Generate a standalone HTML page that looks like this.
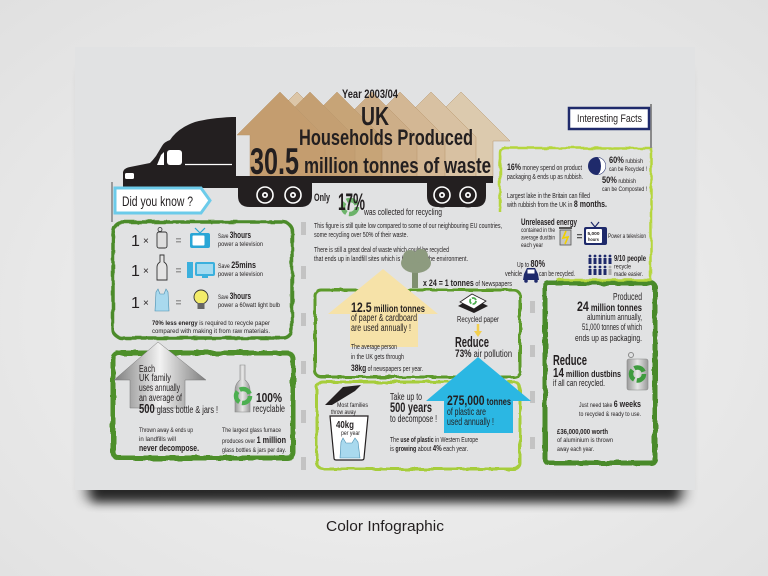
<!DOCTYPE html>
<html><head><meta charset="utf-8"><style>
html,body{margin:0;padding:0;width:768px;height:576px;overflow:hidden;background:#ececec}
svg{display:block}
text{font-family:"Liberation Sans Narrow","Liberation Sans",sans-serif;fill:#231f20}
.b{font-weight:bold}
</style></head><body>
<svg width="768" height="576" viewBox="0 0 768 576" xmlns="http://www.w3.org/2000/svg">
<defs>
<radialGradient id="bg" cx="0.5" cy="0.55" r="0.75">
<stop offset="0" stop-color="#f4f4f4"/><stop offset="1" stop-color="#e0e0e0"/>
</radialGradient>
<filter id="blur" x="-10%" y="-10%" width="120%" height="130%"><feGaussianBlur stdDeviation="6"/></filter>
<filter id="blur2" x="-10%" y="-50%" width="120%" height="200%"><feGaussianBlur stdDeviation="5"/></filter>
<filter id="rough" x="-5%" y="-5%" width="110%" height="110%">
<feTurbulence type="fractalNoise" baseFrequency="0.09" numOctaves="2" seed="4"/>
<feDisplacementMap in="SourceGraphic" scale="3.5"/>
</filter>
<linearGradient id="silver" x1="0" x2="1" y1="0" y2="0">
<stop offset="0" stop-color="#7d7d7d"/><stop offset="0.5" stop-color="#f2f2f2"/><stop offset="1" stop-color="#7d7d7d"/>
</linearGradient>
<linearGradient id="glass" x1="0" x2="1">
<stop offset="0" stop-color="#9a9a9a"/><stop offset="0.5" stop-color="#e6e6e6"/><stop offset="1" stop-color="#9a9a9a"/>
</linearGradient>
</defs>

<rect width="768" height="576" fill="url(#bg)"/>
<!-- card shadow -->
<rect x="84" y="70" width="602" height="430" fill="#000" opacity="0.45" filter="url(#blur)"/>
<rect x="92" y="470" width="586" height="32" fill="#000" opacity="0.7" filter="url(#blur2)"/>
<rect x="75" y="47" width="620" height="443" fill="#e1e2e3"/>

<!-- small gray markers -->
<g fill="#c3c3c3">
<rect x="301" y="222" width="5" height="13"/><rect x="301" y="266" width="5" height="13"/><rect x="301" y="313" width="5" height="13"/>
<rect x="301" y="361" width="5" height="13"/><rect x="301" y="410" width="5" height="13"/><rect x="301" y="457" width="5" height="13"/>
<rect x="530" y="301" width="5" height="12"/><rect x="530" y="345" width="5" height="12"/><rect x="530" y="391" width="5" height="12"/><rect x="530" y="437" width="5" height="12"/>
</g>

<!-- houses -->
<g stroke="#b8966c" stroke-width="0.5">
<polygon points="252,137 297,92 342,137 342,178 252,178" fill="#dcc6a8"/>
<polygon points="416,137 461,92 510,141 493,141 493,178 416,178" fill="#dccaae"/>
<polygon points="386,137 431,92 476,137 476,178 386,178" fill="#d8c1a2"/>
<polygon points="355,137 400,92 445,137 445,178 355,178" fill="#d3b794"/>
<polygon points="327,137 372,92 417,137 417,178 327,178" fill="#cdae88"/>
<polygon points="292,137 337,92 382,137 382,178 292,178" fill="#c7a477"/>
<polygon points="265,137 310,92 355,137 355,178 265,178" fill="#c49f72"/>
<polygon points="237,135 280,92 325,137 325,178 250,178 250,135" fill="#c49d6f"/>
</g>

<!-- truck -->
<g fill="#231f20">
<path d="M123,186 L123,172 Q124,168 130,167 L150,163 Q153,160 156,156 L162,146 Q164,142 170,140 Q178,128 195,122 Q210,118 232,117 L236,117 L236,186 Z"/>
<rect x="123" y="178" width="120" height="10"/>
<rect x="236" y="176" width="257" height="7"/>
<path d="M238,180 L312,180 L312,196 Q312,207 300,207 L250,207 Q238,207 238,196 Z"/>
<path d="M427,180 L486,180 L486,196 Q486,207 475,207 L438,207 Q427,207 427,196 Z"/>
</g>
<g fill="#fff">
<rect x="167" y="150" width="15" height="15" rx="3"/>
<polygon points="164,152 164,165 157,165 161,155"/>
<rect x="125" y="173" width="9" height="6" rx="1.5"/>
</g>
<line x1="185" y1="164.5" x2="232" y2="164.5" stroke="#fff" stroke-width="1.2"/>
<g>
<circle cx="265" cy="195" r="12" fill="#231f20"/><circle cx="265" cy="195" r="8" fill="none" stroke="#fff" stroke-width="1.6"/><circle cx="265" cy="195" r="3" fill="#fff"/><circle cx="265" cy="195" r="1.3" fill="#231f20"/>
<circle cx="293" cy="195" r="12" fill="#231f20"/><circle cx="293" cy="195" r="8" fill="none" stroke="#fff" stroke-width="1.6"/><circle cx="293" cy="195" r="3" fill="#fff"/><circle cx="293" cy="195" r="1.3" fill="#231f20"/>
<circle cx="442" cy="195" r="12.5" fill="#231f20"/><circle cx="442" cy="195" r="8" fill="none" stroke="#fff" stroke-width="1.6"/><circle cx="442" cy="195" r="3" fill="#fff"/><circle cx="442" cy="195" r="1.3" fill="#231f20"/>
<circle cx="468" cy="195" r="12.5" fill="#231f20"/><circle cx="468" cy="195" r="8" fill="none" stroke="#fff" stroke-width="1.6"/><circle cx="468" cy="195" r="3" fill="#fff"/><circle cx="468" cy="195" r="1.3" fill="#231f20"/>
</g>

<!-- headline -->
<text x="342" y="98" class="b" font-size="11.5" textLength="56" lengthAdjust="spacingAndGlyphs">Year 2003/04</text>
<text x="361" y="125" class="b" font-size="26" textLength="28" lengthAdjust="spacingAndGlyphs">UK</text>
<text x="299" y="145" class="b" font-size="22" textLength="174" lengthAdjust="spacingAndGlyphs">Households Produced</text>
<text x="250" y="174" class="b" font-size="37" textLength="49" lengthAdjust="spacingAndGlyphs">30.5</text>
<text x="304" y="173" class="b" font-size="22" textLength="187" lengthAdjust="spacingAndGlyphs">million tonnes of waste</text>

<!-- did you know -->
<line x1="112" y1="182" x2="112" y2="222" stroke="#9a9a9a" stroke-width="2"/>
<polygon points="115,188 201,188 210,200.5 201,213 115,213" fill="#fff" stroke="#6ccbea" stroke-width="3"/>
<text x="122" y="206" font-size="14" textLength="71" lengthAdjust="spacingAndGlyphs">Did you know ?</text>

<!-- only 17% -->
<text x="314" y="201" class="b" font-size="11" textLength="16" lengthAdjust="spacingAndGlyphs">Only</text>
<circle cx="350" cy="207" r="7" fill="none" stroke="#6cb36a" stroke-width="4.5" stroke-dasharray="12 2.7"/>
<text x="338" y="210" class="b" font-size="24" textLength="27" lengthAdjust="spacingAndGlyphs">17%</text>
<text x="364" y="215" font-size="9" textLength="78" lengthAdjust="spacingAndGlyphs">was collected for recycling</text>

<text x="314" y="228" font-size="7" textLength="188" lengthAdjust="spacingAndGlyphs">This figure is still quite low compared to some of our neighbouring EU countries,</text>
<text x="314" y="237" font-size="7" textLength="94" lengthAdjust="spacingAndGlyphs">some recycling over 50% of their waste.</text>
<text x="314" y="252" font-size="7" textLength="135" lengthAdjust="spacingAndGlyphs">There is still a great deal of waste which could be recycled</text>
<text x="314" y="261" font-size="7" textLength="154" lengthAdjust="spacingAndGlyphs">that ends up in landfill sites which is harmful to the environment.</text>

<!-- tree -->
<rect x="412" y="270" width="6" height="18" fill="#7f8f6f"/>
<ellipse cx="416" cy="263" rx="15" ry="10" fill="#8d9b7f"/>
<circle cx="410" cy="257" r="7" fill="#8d9b7f"/><circle cx="421" cy="256" r="7" fill="#8d9b7f"/>
<text x="423" y="286" font-size="9" textLength="89" lengthAdjust="spacingAndGlyphs"><tspan class="b">x 24 = 1 tonnes</tspan><tspan font-size="7"> of Newspapers</tspan></text>

<!-- boxes -->
<g fill="none" filter="url(#rough)">
<rect x="113" y="222" width="179" height="116" rx="9" stroke="#4b8b2b" stroke-width="3.5"/>
<rect x="113" y="353" width="180" height="105" rx="6" stroke="#4d8f2c" stroke-width="5"/>
<rect x="315" y="290" width="205" height="87" rx="6" stroke="#5c9a2c" stroke-width="3"/>
<rect x="317" y="382" width="203" height="87" rx="6" stroke="#a6cd3a" stroke-width="3"/>
<rect x="545" y="283" width="110" height="180" rx="4" stroke="#4a8a2a" stroke-width="5"/>
<path d="M500,212 L500,153 Q500,148 506,148 L651,148 L651,280 L557,280" stroke="#b5d63c" stroke-width="2.5"/>
</g>

<!-- interesting facts -->
<line x1="651" y1="104" x2="651" y2="148" stroke="#8a8a8a" stroke-width="2"/>
<rect x="569" y="108" width="80" height="21" fill="#fff" stroke="#1f2a6b" stroke-width="2.5"/>
<text x="577" y="122" font-size="11" textLength="65" lengthAdjust="spacingAndGlyphs">Interesting Facts</text>

<!-- left box 1 -->
<g font-size="16">
<text x="131" y="246">1</text><text x="131" y="276">1</text><text x="131" y="308">1</text>
</g>
<g font-size="10"><text x="143" y="244">×</text><text x="143" y="274">×</text><text x="143" y="306">×</text></g>
<g fill="#9a9a9a"><rect x="176" y="238" width="5" height="1.5"/><rect x="176" y="241" width="5" height="1.5"/>
<rect x="176" y="268" width="5" height="1.5"/><rect x="176" y="271" width="5" height="1.5"/>
<rect x="176" y="300" width="5" height="1.5"/><rect x="176" y="303" width="5" height="1.5"/></g>
<!-- can -->
<rect x="157" y="232" width="10" height="16" rx="2" fill="#dedede" stroke="#333" stroke-width="0.9"/>
<circle cx="160" cy="229.5" r="2" fill="none" stroke="#333" stroke-width="0.8"/>
<!-- bottle -->
<path d="M160,255 L164,255 L164,262 Q167,264 167,267 L167,280 L157,280 L157,267 Q157,264 160,262 Z" fill="#e4e4e4" stroke="#333" stroke-width="0.9"/>
<!-- bag -->
<path d="M156,292 L158,289 L160,294 L164,294 L166,289 L168,292 L169,311 L155,311 Z" fill="#a9d9ee" stroke="#4a8fb0" stroke-width="0.6"/>
<!-- tv -->
<line x1="200" y1="233" x2="195" y2="228" stroke="#2aa6d6" stroke-width="1.2"/><line x1="200" y1="233" x2="205" y2="228" stroke="#2aa6d6" stroke-width="1.2"/>
<rect x="190" y="233" width="20" height="15" rx="2" fill="#2aa6d6"/><rect x="192.5" y="235.5" width="12" height="10" rx="1" fill="#fff"/>
<!-- computer -->
<rect x="187" y="262" width="6" height="16" fill="#3bb0dd"/>
<rect x="195" y="262" width="20" height="14" rx="2" fill="#3bb0dd"/><rect x="197" y="264" width="16" height="10" fill="#a5dbf0"/>
<rect x="202" y="276" width="6" height="2" fill="#3bb0dd"/>
<!-- bulb -->
<circle cx="201" cy="297" r="7" fill="#f3ec6a" stroke="#333" stroke-width="0.9"/>
<rect x="197.5" y="303" width="7" height="6" fill="#666"/>
<g font-size="6.5">
<text x="218" y="238" textLength="33" lengthAdjust="spacingAndGlyphs">Save <tspan class="b" font-size="9">3hours</tspan></text>
<text x="218" y="246" textLength="45" lengthAdjust="spacingAndGlyphs">power a television</text>
<text x="218" y="268" textLength="38" lengthAdjust="spacingAndGlyphs">Save <tspan class="b" font-size="9">25mins</tspan></text>
<text x="218" y="276" textLength="45" lengthAdjust="spacingAndGlyphs">power a television</text>
<text x="218" y="299" textLength="33" lengthAdjust="spacingAndGlyphs">Save <tspan class="b" font-size="9">3hours</tspan></text>
<text x="218" y="307" textLength="62" lengthAdjust="spacingAndGlyphs">power a 60watt light bulb</text>
<text x="152" y="325" textLength="118" lengthAdjust="spacingAndGlyphs"><tspan class="b">70% less energy</tspan> is required to recycle paper</text>
<text x="152" y="333" textLength="118" lengthAdjust="spacingAndGlyphs">compared with making it from raw materials.</text>
</g>

<!-- left box 2 -->
<polygon points="158,342 206,380 185,380 185,408 130,408 130,380 114,380" fill="url(#silver)" stroke="#777" stroke-width="0.5"/>
<g font-size="10">
<text x="139" y="372" textLength="16" lengthAdjust="spacingAndGlyphs">Each</text>
<text x="139" y="381" textLength="32" lengthAdjust="spacingAndGlyphs">UK family</text>
<text x="139" y="391" textLength="41" lengthAdjust="spacingAndGlyphs">uses annually</text>
<text x="139" y="401" textLength="43" lengthAdjust="spacingAndGlyphs">an average of</text>
<text x="139" y="413" textLength="79" lengthAdjust="spacingAndGlyphs"><tspan class="b" font-size="13">500</tspan> glass bottle &amp; jars !</text>
</g>
<path d="M240,365 L245,365 L245,380 Q250,384 250,390 L250,412 L235,412 L235,390 Q235,384 240,380 Z" fill="url(#glass)" stroke="#888" stroke-width="0.6"/>
<circle cx="243" cy="396" r="7" fill="none" stroke="#4caf50" stroke-width="4.5" stroke-dasharray="12 2.7"/>
<text x="256" y="402" class="b" font-size="13" textLength="26" lengthAdjust="spacingAndGlyphs">100%</text>
<text x="253" y="412" font-size="10" textLength="32" lengthAdjust="spacingAndGlyphs">recyclable</text>
<g font-size="6.5">
<text x="139" y="432" textLength="54" lengthAdjust="spacingAndGlyphs">Thrown away &amp; ends up</text>
<text x="139" y="441" textLength="37" lengthAdjust="spacingAndGlyphs">in landfills will</text>
<text x="139" y="451" class="b" font-size="9" textLength="60" lengthAdjust="spacingAndGlyphs">never decompose.</text>
<text x="222" y="432" textLength="59" lengthAdjust="spacingAndGlyphs">The largest glass furnace</text>
<text x="222" y="443" textLength="64" lengthAdjust="spacingAndGlyphs">produces over <tspan class="b" font-size="9">1 million</tspan></text>
<text x="222" y="452" textLength="64" lengthAdjust="spacingAndGlyphs">glass bottles &amp; jars per day.</text>
</g>

<!-- center box 1 -->
<polygon points="383,269 438,314 418,314 418,347 350,347 350,314 328,314" fill="#f6e2a8"/>
<text x="351" y="312" class="b" font-size="10" textLength="74" lengthAdjust="spacingAndGlyphs"><tspan font-size="14">12.5</tspan> million tonnes</text>
<text x="351" y="321" font-size="10" textLength="66" lengthAdjust="spacingAndGlyphs">of paper &amp; cardboard</text>
<text x="351" y="331" font-size="10" textLength="60" lengthAdjust="spacingAndGlyphs">are used annually !</text>
<text x="351" y="349" font-size="7" textLength="46" lengthAdjust="spacingAndGlyphs">The average person</text>
<text x="351" y="359" font-size="7" textLength="53" lengthAdjust="spacingAndGlyphs">in the UK gets through</text>
<text x="351" y="371" font-size="7" textLength="72" lengthAdjust="spacingAndGlyphs"><tspan class="b" font-size="9">38kg</tspan> of newspapers per year.</text>
<!-- recycled paper icon -->
<polygon points="458,306 472,298 488,306 474,313" fill="#231f20"/>
<polygon points="460,302 472,294 486,301 474,309" fill="#fff" stroke="#231f20" stroke-width="0.8"/>
<circle cx="473" cy="301" r="3" fill="none" stroke="#4caf50" stroke-width="1.8" stroke-dasharray="5 1.3"/>
<text x="457" y="322" font-size="8" textLength="42" lengthAdjust="spacingAndGlyphs">Recycled paper</text>
<line x1="478" y1="324" x2="478" y2="332" stroke="#f2cf4f" stroke-width="2.5"/>
<polygon points="474,331 482,331 478,337" fill="#f2cf4f"/>
<text x="455" y="347" class="b" font-size="15" textLength="34" lengthAdjust="spacingAndGlyphs">Reduce</text>
<text x="455" y="357" font-size="10" textLength="57" lengthAdjust="spacingAndGlyphs"><tspan class="b" font-size="11">73%</tspan> air pollution</text>

<!-- center box 2 -->
<polygon points="426,401 478,357 531,401 513,401 513,433 444,433 444,401" fill="#2bb7e3"/>
<text x="447" y="405" class="b" font-size="10" textLength="64" lengthAdjust="spacingAndGlyphs"><tspan font-size="14">275,000</tspan> tonnes</text>
<text x="447" y="415" font-size="10" textLength="39" lengthAdjust="spacingAndGlyphs">of plastic are</text>
<text x="447" y="425" font-size="10" textLength="47" lengthAdjust="spacingAndGlyphs">used annually !</text>
<polygon points="325,405 343,387 361,385 355,391 332,405" fill="#231f20"/>
<text x="337" y="407" font-size="6.5" textLength="31" lengthAdjust="spacingAndGlyphs">Most families</text>
<text x="331" y="414" font-size="6.5" textLength="25" lengthAdjust="spacingAndGlyphs">throw away</text>
<path d="M330,416 L368,416 L364,458 Q364,460 362,460 L336,460 Q334,460 334,458 Z" fill="#fff" stroke="#231f20" stroke-width="1.2"/>
<text x="336" y="428" class="b" font-size="10" textLength="18" lengthAdjust="spacingAndGlyphs">40kg</text>
<text x="341" y="435" font-size="6" textLength="19" lengthAdjust="spacingAndGlyphs">per year</text>
<path d="M341,442 L343,438 L346,443 L352,443 L355,438 L358,442 L360,458 L340,458 Z" fill="#a9d9ee" stroke="#4a8fb0" stroke-width="0.6"/>
<text x="390" y="400" font-size="10" textLength="32" lengthAdjust="spacingAndGlyphs">Take up to</text>
<text x="390" y="412" class="b" font-size="14" textLength="42" lengthAdjust="spacingAndGlyphs">500 years</text>
<text x="390" y="422" font-size="10" textLength="47" lengthAdjust="spacingAndGlyphs">to decompose !</text>
<text x="390" y="442" font-size="7" textLength="88" lengthAdjust="spacingAndGlyphs">The <tspan class="b">use of plastic</tspan> in Western Europe</text>
<text x="390" y="451" font-size="7" textLength="78" lengthAdjust="spacingAndGlyphs">is <tspan class="b">growing</tspan> about <tspan class="b" font-size="8">4%</tspan> each year.</text>

<!-- right top box -->
<text x="507" y="170" font-size="7" textLength="75" lengthAdjust="spacingAndGlyphs"><tspan class="b" font-size="9">16%</tspan> money spend on product</text>
<text x="507" y="179" font-size="7" textLength="76" lengthAdjust="spacingAndGlyphs">packaging &amp; ends up as rubbish.</text>
<circle cx="597" cy="166" r="9" fill="#1f2a6b"/>
<path d="M597,157.5 A8.5,8.5 0 0 1 597,174.5 A4,8.5 0 0 0 597,157.5 Z" fill="#fff"/>
<text x="609" y="163" font-size="6.5" textLength="34" lengthAdjust="spacingAndGlyphs"><tspan class="b" font-size="9">60%</tspan> rubbish</text>
<text x="609" y="171" font-size="6.5" textLength="38" lengthAdjust="spacingAndGlyphs">can be Recycled !</text>
<text x="602" y="183" font-size="6.5" textLength="34" lengthAdjust="spacingAndGlyphs"><tspan class="b" font-size="9">50%</tspan> rubbish</text>
<text x="602" y="191" font-size="6.5" textLength="45" lengthAdjust="spacingAndGlyphs">can be Composted !</text>
<text x="507" y="198" font-size="7" textLength="83" lengthAdjust="spacingAndGlyphs">Largest lake in the Britain can filled</text>
<text x="507" y="207" font-size="7" textLength="100" lengthAdjust="spacingAndGlyphs">with rubbish from the UK in <tspan class="b" font-size="9">8 months.</tspan></text>
<text x="521" y="225" class="b" font-size="9" textLength="56" lengthAdjust="spacingAndGlyphs">Unreleased energy</text>
<text x="521" y="232" font-size="6" textLength="34" lengthAdjust="spacingAndGlyphs">contained in the</text>
<text x="521" y="239.5" font-size="6" textLength="34" lengthAdjust="spacingAndGlyphs">average dustbin</text>
<text x="521" y="247" font-size="6" textLength="22" lengthAdjust="spacingAndGlyphs">each year</text>
<rect x="559" y="227" width="13" height="2" fill="#555"/>
<rect x="560" y="230" width="11" height="15" fill="#c6c6c6" stroke="#555" stroke-width="0.8"/>
<polyline points="566,231 563,238 568,237 565,244" fill="none" stroke="#f1d000" stroke-width="1.6"/>
<rect x="577" y="234" width="5" height="1.3" fill="#555"/><rect x="577" y="237" width="5" height="1.3" fill="#555"/>
<line x1="595" y1="227" x2="591" y2="222" stroke="#1f2a6b" stroke-width="1.2"/><line x1="595" y1="227" x2="599" y2="222" stroke="#1f2a6b" stroke-width="1.2"/>
<rect x="584" y="227" width="23" height="18" rx="2" fill="#1f2a6b"/>
<rect x="586" y="229" width="16" height="14" rx="1" fill="#fff"/>
<text x="587.5" y="235" class="b" font-size="4.5" textLength="12" lengthAdjust="spacingAndGlyphs">5,000</text>
<text x="588" y="241" class="b" font-size="4.5" textLength="11" lengthAdjust="spacingAndGlyphs">hours</text>
<text x="608" y="238" font-size="6.5" textLength="38" lengthAdjust="spacingAndGlyphs">Power a television</text>
<text x="517" y="267" font-size="7" textLength="28" lengthAdjust="spacingAndGlyphs">Up to <tspan class="b" font-size="10">80%</tspan></text>
<text x="505" y="276" font-size="7" textLength="17" lengthAdjust="spacingAndGlyphs">vehicle</text>
<path d="M524,274 L527,268 L535,268 L538,274 L539,280 L523,280 Z" fill="#1f2a6b"/>
<rect x="527.5" y="269.5" width="7" height="4" fill="#fff"/>
<circle cx="526" cy="281" r="1.8" fill="#1f2a6b"/><circle cx="536" cy="281" r="1.8" fill="#1f2a6b"/>
<text x="539" y="276" font-size="7" textLength="36" lengthAdjust="spacingAndGlyphs">can be recycled.</text>
<g fill="#1f2a6b">
<circle cx="590" cy="256" r="1.4"/><rect x="588.5" y="258" width="3" height="6"/>
<circle cx="595" cy="256" r="1.4"/><rect x="593.5" y="258" width="3" height="6"/>
<circle cx="600" cy="256" r="1.4"/><rect x="598.5" y="258" width="3" height="6"/>
<circle cx="605" cy="256" r="1.4"/><rect x="603.5" y="258" width="3" height="6"/>
<circle cx="610" cy="256" r="1.4"/><rect x="608.5" y="258" width="3" height="6"/>
<circle cx="590" cy="267" r="1.4"/><rect x="588.5" y="269" width="3" height="6"/>
<circle cx="595" cy="267" r="1.4"/><rect x="593.5" y="269" width="3" height="6"/>
<circle cx="600" cy="267" r="1.4"/><rect x="598.5" y="269" width="3" height="6"/>
<circle cx="605" cy="267" r="1.4"/><rect x="603.5" y="269" width="3" height="6"/>
</g>
<circle cx="610" cy="267" r="1.4" fill="#aaa"/><rect x="608.5" y="269" width="3" height="6" fill="#aaa"/>
<text x="614" y="261" class="b" font-size="8" textLength="32" lengthAdjust="spacingAndGlyphs">9/10 people</text>
<text x="614" y="268.5" font-size="6.5" textLength="17" lengthAdjust="spacingAndGlyphs">recycle</text>
<text x="614" y="276" font-size="6.5" textLength="29" lengthAdjust="spacingAndGlyphs">made easier.</text>

<!-- right bottom box -->
<g text-anchor="end">
<text x="642" y="300" font-size="10" textLength="29" lengthAdjust="spacingAndGlyphs">Produced</text>
<text x="642" y="311" class="b" font-size="10" textLength="65" lengthAdjust="spacingAndGlyphs"><tspan font-size="14">24</tspan> million tonnes</text>
<text x="642" y="320" font-size="9.5" textLength="55" lengthAdjust="spacingAndGlyphs">aluminium annually,</text>
<text x="642" y="330" font-size="9.5" textLength="60" lengthAdjust="spacingAndGlyphs">51,000 tonnes of which</text>
<text x="642" y="341" font-size="9.5" textLength="67" lengthAdjust="spacingAndGlyphs">ends up as packaging.</text>
<text x="641" y="407" font-size="6.5" textLength="62" lengthAdjust="spacingAndGlyphs">Just need take <tspan class="b" font-size="9">6 weeks</tspan></text>
<text x="641" y="416" font-size="6.5" textLength="62" lengthAdjust="spacingAndGlyphs">to recycled &amp; ready to use.</text>
</g>
<text x="553" y="365" class="b" font-size="15" textLength="34" lengthAdjust="spacingAndGlyphs">Reduce</text>
<text x="553" y="377" class="b" font-size="9.5" textLength="68" lengthAdjust="spacingAndGlyphs"><tspan font-size="13">14</tspan> million dustbins</text>
<text x="553" y="386" font-size="9" textLength="52" lengthAdjust="spacingAndGlyphs">if all can recycled.</text>
<circle cx="631" cy="355" r="2.5" fill="none" stroke="#888" stroke-width="1"/>
<rect x="627" y="359" width="21" height="31" rx="2" fill="url(#glass)" stroke="#888" stroke-width="0.6"/>
<circle cx="637.5" cy="374" r="6.5" fill="none" stroke="#3e9b3e" stroke-width="4.5" stroke-dasharray="11 2.6"/>
<text x="557" y="434" class="b" font-size="7.5" textLength="51" lengthAdjust="spacingAndGlyphs">£36,000,000 worth</text>
<text x="557" y="442" font-size="6.5" textLength="56" lengthAdjust="spacingAndGlyphs">of aluminium is thrown</text>
<text x="557" y="451" font-size="6.5" textLength="37" lengthAdjust="spacingAndGlyphs">away each year.</text>

<!-- caption -->
<text x="326" y="531" font-size="15" style="font-family:'Liberation Sans',sans-serif" fill="#222" textLength="118" lengthAdjust="spacingAndGlyphs">Color Infographic</text>
</svg>
</body></html>
